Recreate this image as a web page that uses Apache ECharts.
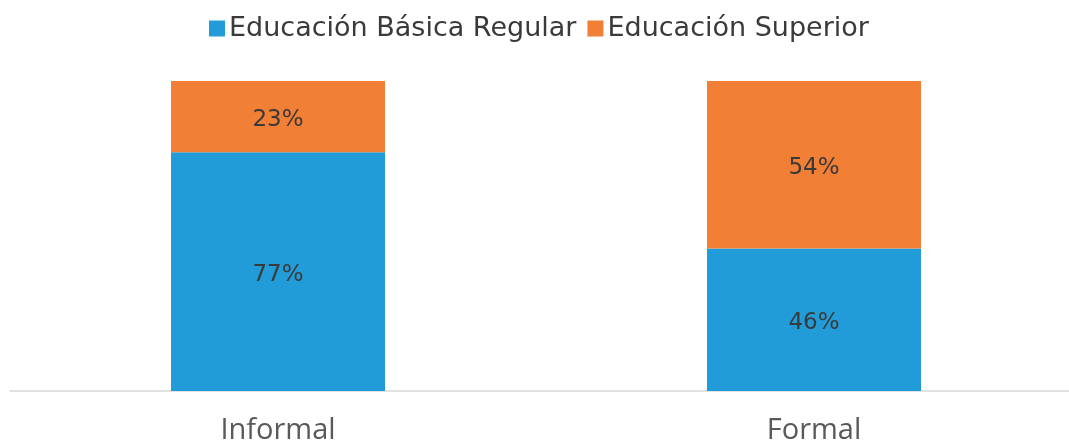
<!DOCTYPE html>
<html><head><meta charset="utf-8">
<script src="https://cdn.jsdelivr.net/npm/echarts@6/dist/echarts.min.js"></script>
<style>html,body{margin:0;padding:0;background:#fff;overflow:hidden}#c{width:1082px;height:443px}</style>
</head><body><div id="c"></div>
<script>
const categories = ['Informal', 'Formal'];
const seriesNames = ['Educación Básica Regular', 'Educación Superior'];
const basica = [77, 46];
const superior = [23, 54];
const colors = ['#219CD8', '#F17F35'];

const chart = echarts.init(document.getElementById('c'));
const lbl = {show: true, position: 'inside', offset: [0, 3], formatter: p => p.value + '%', color: '#3a3a3a', fontSize: 23, fontFamily: 'DejaVu Sans'};
chart.setOption({
  animation: false,
  color: colors,
  legend: {
    top: 10, left: 204, itemWidth: 16, itemHeight: 16, itemGap: 11,
    icon: 'rect',
    textStyle: {fontSize: 27, color: '#3a3a3a', fontFamily: 'DejaVu Sans', padding: [0, 0, 0, -1]},
    data: seriesNames
  },
  grid: {left: 10, top: 81, right: 0, bottom: 52, containLabel: false, outerBoundsMode: 'none'},
  xAxis: {
    type: 'category', data: categories,
    axisLine: {lineStyle: {color: '#d9d9d9', width: 1.5}},
    axisTick: {show: false},
    axisLabel: {fontSize: 29, color: '#595959', margin: 25, fontFamily: 'Open Sans'}
  },
  yAxis: {type: 'value', min: 0, max: 100, show: false, splitLine: {show: false}},
  series: [
    {name: seriesNames[0], type: 'bar', stack: 's', data: basica, barWidth: 214, label: lbl},
    {name: seriesNames[1], type: 'bar', stack: 's', data: superior, barWidth: 214, label: lbl}
  ]
});
</script></body></html>
